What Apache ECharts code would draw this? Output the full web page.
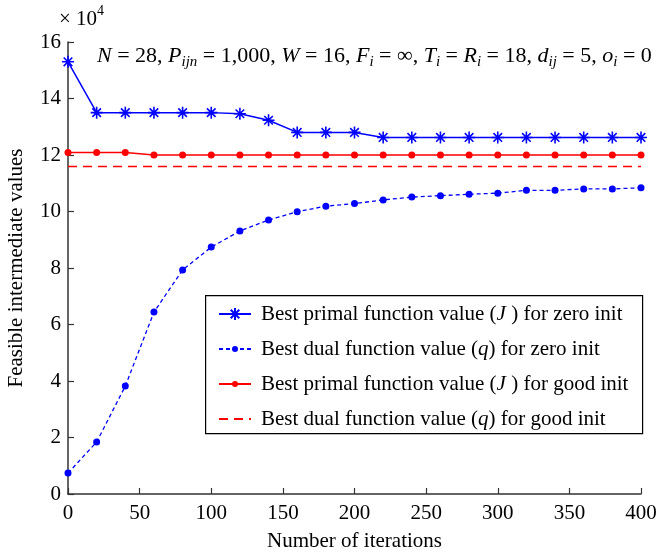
<!DOCTYPE html>
<html>
<head>
<meta charset="utf-8">
<script src="https://cdn.jsdelivr.net/npm/echarts@6/dist/echarts.min.js"></script>
<style>html,body{margin:0;padding:0;background:#fff}#c{width:658px;height:552px}</style>
</head>
<body>
<div id="c"></div>
<script>
var iterations = [0,20,40,60,80,100,120,140,160,180,200,220,240,260,280,300,320,340,360,380,400];
var primalZero = [153000,135000,135000,135000,135000,135000,134600,132300,128000,128000,128000,126200,126200,126200,126200,126200,126200,126200,126200,126200,126200];
var dualZero = [7400,18400,38200,64400,79300,87400,93100,97000,99900,101900,102800,104100,105100,105600,106100,106500,107500,107500,108000,108000,108400];
var primalGood = [120900,120900,120900,120000,120000,120000,120000,120000,120000,120000,120000,120000,120000,120000,120000,120000,120000,120000,120000,120000,120000];
var dualGood = [115900,115900,115900,115900,115900,115900,115900,115900,115900,115900,115900,115900,115900,115900,115900,115900,115900,115900,115900,115900,115900];
var seriesNames = [
  'Best primal function value (J) for zero init',
  'Best dual function value (q) for zero init',
  'Best primal function value (J) for good init',
  'Best dual function value (q) for good init'
];
var xTicks = [0,50,100,150,200,250,300,350,400];
var yTicks = [0,2,4,6,8,10,12,14,16];

var FONT = '"Liberation Serif","Times New Roman",serif';
var BLUE = '#0000ff', RED = '#ff0000', AX = '#333333';
var star = 'path://M0,-6L0,6M-6,0L6,0M-4.3,-4.3L4.3,4.3M-4.3,4.3L4.3,-4.3';

function pairs(ys){ return iterations.map(function(x,i){ return [x, ys[i]]; }); }

var legendRich = {
  n:{fontFamily:FONT,fontSize:21,color:'#000',lineHeight:24},
  i:{fontFamily:FONT,fontSize:21,fontStyle:'italic',color:'#000',lineHeight:24}
};
function legendFmt(name){
  var m = name.match(/^(.*\()(\w)(\).*)$/);
  var mid = m[2]==='J' ? m[2]+' ' : m[2];
  return '{n|'+m[1]+'}{i|'+mid+'}{n|'+m[3]+'}';
}
var rowCenters = [314,349,384,419];
var iconHeights = [15,7.5,7.5,7.5];
function makeLegend(k, extra){
  var d = {name:seriesNames[k]};
  if (extra) for (var p in extra) d[p]=extra[p];
  return {
    orient:'vertical',left:218,top:rowCenters[k]-12,padding:0,
    itemWidth:32,itemHeight:iconHeights[k],
    data:[d],formatter:legendFmt,selectedMode:false,
    textStyle:{fontFamily:FONT,fontSize:21,color:'#000',lineHeight:24,padding:[0,0,0,5],rich:legendRich}
  };
}

var chart = echarts.init(document.getElementById('c'), null, {renderer:'canvas'});
chart.setOption({
  animation:false,
  backgroundColor:'#fff',
  grid:{left:68,right:17,top:42,bottom:58,outerBoundsMode:'none',containLabel:false},
  xAxis:{
    type:'value',min:0,max:400,interval:50,
    name:'Number of iterations',nameLocation:'middle',nameGap:37,
    nameTextStyle:{fontFamily:FONT,fontSize:21,color:'#000'},
    axisLine:{show:true,onZero:false,lineStyle:{color:AX,width:1.5}},
    axisTick:{show:true,inside:true,length:6,lineStyle:{color:AX,width:1.2}},
    axisLabel:{fontFamily:FONT,fontSize:21,color:'#000',margin:9},
    splitLine:{show:false}
  },
  yAxis:{
    type:'value',min:0,max:160000,interval:20000,
    name:'Feasible intermediate values',nameLocation:'middle',nameGap:41,nameRotate:90,
    nameTextStyle:{fontFamily:FONT,fontSize:21,color:'#000'},
    axisLine:{show:true,onZero:false,lineStyle:{color:AX,width:1.5}},
    axisTick:{show:true,inside:true,length:6,lineStyle:{color:AX,width:1.2}},
    axisLabel:{fontFamily:FONT,fontSize:21,color:'#000',margin:7,
      formatter:function(v){ return String(v/10000); }},
    splitLine:{show:false}
  },
  legend:[
    makeLegend(0),
    makeLegend(1),
    makeLegend(2),
    makeLegend(3,{itemStyle:{opacity:0}})
  ],
  graphic:[
    {type:'rect',left:205,top:295,z:-1,shape:{width:437,height:138},
     style:{fill:'#fff',stroke:'#000',lineWidth:1.2}},
    {type:'text',left:59,top:4,style:{
      text:'{a|× 10}{s|4}',
      rich:{a:{fontFamily:FONT,fontSize:21,fill:'#000',verticalAlign:'bottom',lineHeight:26},
            s:{fontFamily:FONT,fontSize:14,fill:'#000',verticalAlign:'top',lineHeight:26}}
    }},
    {type:'text',left:97,top:45,z:10,style:{
      text:'{i|N}{n| = 28, }{i|P}{s|ijn}{n| = 1,000, }{i|W}{n| = 16, }{i|F}{s|i}{n| = ∞, }{i|T}{s|i}{n| = }{i|R}{s|i}{n| = 18, }{i|d}{s|ij}{n| = 5, }{i|o}{s|i}{n| = 0}',
      rich:{
        n:{fontFamily:FONT,fontSize:22,fill:'#000',verticalAlign:'middle',lineHeight:28},
        i:{fontFamily:FONT,fontSize:22,fontStyle:'italic',fill:'#000',verticalAlign:'middle',lineHeight:28},
        s:{fontFamily:FONT,fontSize:15,fontStyle:'italic',fill:'#000',verticalAlign:'bottom',lineHeight:28}
      }
    }}
  ],
  series:[
    {name:seriesNames[0],type:'line',data:pairs(primalZero),
     symbol:star,symbolSize:12,showAllSymbol:true,
     lineStyle:{color:BLUE,width:1.5},
     itemStyle:{color:BLUE,borderColor:BLUE,borderWidth:1.6},z:5},
    {name:seriesNames[1],type:'line',data:pairs(dualZero),
     symbol:'circle',symbolSize:7,showAllSymbol:true,
     lineStyle:{color:BLUE,width:1.3,type:[4,3]},
     itemStyle:{color:BLUE,borderWidth:0},z:4},
    {name:seriesNames[2],type:'line',data:pairs(primalGood),
     symbol:'circle',symbolSize:7,showAllSymbol:true,
     lineStyle:{color:RED,width:1.5},
     itemStyle:{color:RED,borderWidth:0},z:3},
    {name:seriesNames[3],type:'line',data:pairs(dualGood),
     symbol:'none',
     lineStyle:{color:RED,width:1.5,type:[9,6]},
     itemStyle:{color:RED},z:2}
  ]
});
</script>
</body>
</html>
